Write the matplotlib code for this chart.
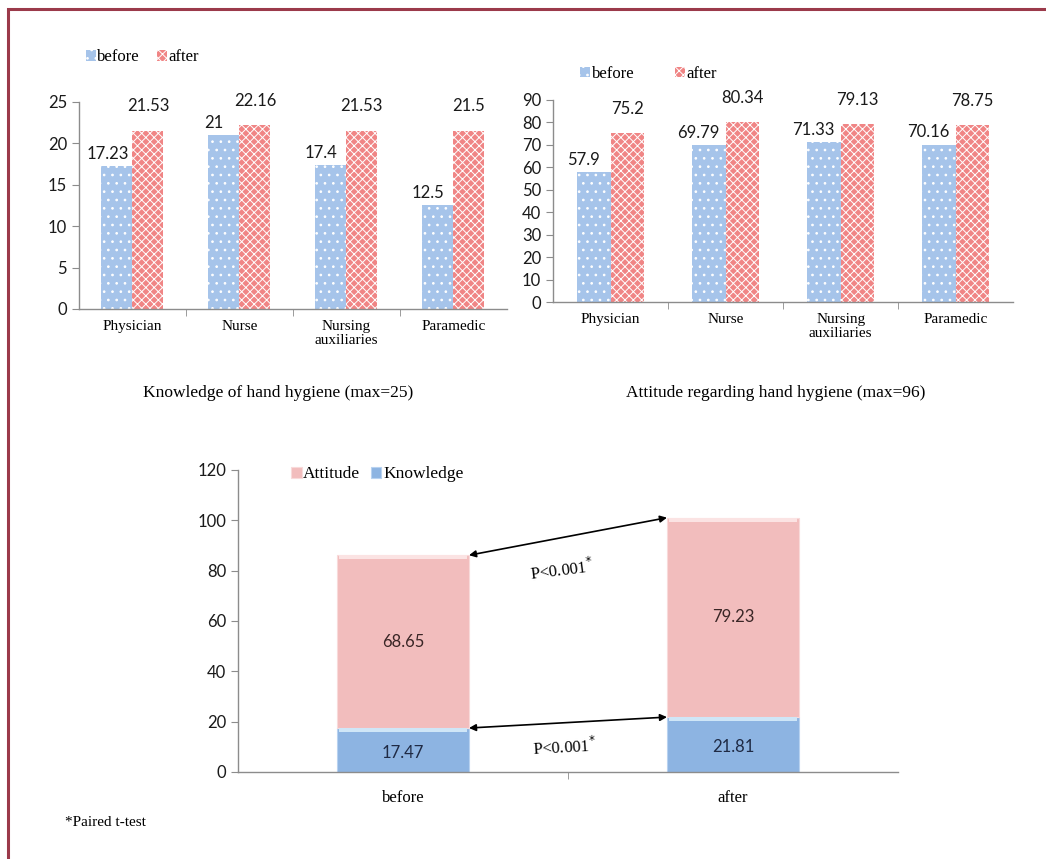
import numpy as np
import matplotlib.pyplot as plt
from matplotlib.patches import Rectangle

# hand hygiene scores by profession, before/after the intervention
groups = ["Physician", "Nurse", "Nursing\nauxiliaries", "Paramedic"]
know_before = [17.23, 21, 17.4, 12.5]
know_after = [21.53, 22.16, 21.53, 21.5]
att_before = [57.9, 69.79, 71.33, 70.16]
att_after = [75.2, 80.34, 79.13, 78.75]

# overall mean scores (stacked)
phases = ["before", "after"]
knowledge_total = [17.47, 21.81]
attitude_total = [68.65, 79.23]

serif = "Liberation Serif"
sans = "Lato"
blue = "#a6c4ea"
red = "#f08585"
axcol = "#8c8c8c"

plt.rcParams['hatch.linewidth'] = 0.7

fig = plt.figure(figsize=(10.46, 8.59), dpi=100)


def style_axes(ax):
    for s in ["top", "right"]:
        ax.spines[s].set_visible(False)
    for s in ["left", "bottom"]:
        ax.spines[s].set_color(axcol)
        ax.spines[s].set_linewidth(1.0)
    ax.tick_params(axis="y", colors=axcol, length=5, labelcolor="#1a1a1a",
                   labelsize=12)
    for t in ax.get_yticklabels():
        t.set_fontfamily(sans)


def grouped(ax, before, after, ymax, step, leg_xy, colspace):
    x = np.arange(len(groups))
    w = 0.29
    b1 = ax.bar(x - w / 2, before, w, color=blue, edgecolor="white",
                hatch="..", linewidth=0, label="before")
    b2 = ax.bar(x + w / 2, after, w, color=red, edgecolor="white",
                hatch="xxxx", linewidth=0, label="after")
    for xi, v in zip(x - w / 2, before):
        ax.text(xi - 0.09, v + ymax * 0.02, f"{v:g}", ha="center", va="bottom",
                fontsize=12, family=sans, color="#1a1a1a")
    for xi, v in zip(x + w / 2, after):
        ax.text(xi, v + ymax * 0.08, f"{v:g}", ha="center", va="bottom",
                fontsize=12, family=sans, color="#1a1a1a")
    ax.set_xlim(-0.5, len(groups) - 0.5)
    ax.set_ylim(0, ymax)
    ax.set_yticks(np.arange(0, ymax + 1, step))
    ax.set_xticks(x)
    ax.set_xticklabels(groups, family=serif, fontsize=11, linespacing=1.05)
    ax.set_xticks(np.arange(0.5, len(groups) - 0.5, 1), minor=True)
    ax.tick_params(axis="x", which="major", length=0, pad=8)
    ax.tick_params(axis="x", which="minor", length=5, color=axcol)
    style_axes(ax)
    ax.legend(handles=[b1, b2], loc="center left", bbox_to_anchor=leg_xy,
              frameon=False, ncol=2, handlelength=0.6, handleheight=0.6,
              handletextpad=0.1, columnspacing=colspace, borderaxespad=0,
              prop={"family": serif, "size": 12})


ax1 = fig.add_axes([0.0755, 0.6403, 0.409, 0.241])
grouped(ax1, know_before, know_after, 25, 5, (0.0, 1.215), 1.0)
fig.text(0.266, 0.542, "Knowledge of hand hygiene (max=25)", ha="center",
         va="center", family=serif, fontsize=12.5)

ax2 = fig.add_axes([0.5287, 0.6484, 0.44, 0.2352])
grouped(ax2, att_before, att_after, 90, 10, (0.045, 1.13), 2.4)
fig.text(0.742, 0.542, "Attitude regarding hand hygiene (max=96)",
         ha="center", va="center", family=serif, fontsize=12.5)

# stacked totals
ax3 = fig.add_axes([0.2275, 0.1013, 0.631, 0.3516])
xp = np.arange(len(phases))
bw = 0.4
kb = ax3.bar(xp, knowledge_total, bw, color="#8db4e2", label="Knowledge",
             edgecolor="#b8d2f0", linewidth=0.8)
ab = ax3.bar(xp, attitude_total, bw, bottom=knowledge_total, color="#f2bdbd",
             label="Attitude", edgecolor="#f8dada", linewidth=0.8)
tops = np.array(knowledge_total) + np.array(attitude_total)
# light bevel strip along the top of each segment
ax3.bar(xp, 1.6, bw * 0.97, bottom=np.array(knowledge_total) - 1.6,
        color="#cfe6f7", linewidth=0)
ax3.bar(xp, 1.6, bw * 0.97, bottom=tops - 1.6, color="#fbe3e3", linewidth=0)
for xi, k, a in zip(xp, knowledge_total, attitude_total):
    ax3.text(xi, k / 2 - 1, f"{k:g}", ha="center", va="center", fontsize=12,
             family=sans, color="#1f2a44")
    ax3.text(xi, k + a / 2, f"{a:g}", ha="center", va="center", fontsize=12,
             family=sans, color="#3a2626")

# paired t-test arrows between bar tops
for y0, y1 in [(knowledge_total[0], knowledge_total[1]), (tops[0], tops[1])]:
    ax3.annotate("", xy=(xp[0] + bw / 2, y0), xytext=(xp[1] - bw / 2, y1),
                 arrowprops=dict(arrowstyle="<|-|>", color="black", lw=1.2,
                                 mutation_scale=10, shrinkA=0, shrinkB=0))
ax3.text(0.48, tops[0] - 6.0, r"P<0.001$^{*}$", ha="center", va="center",
         rotation=7, family=serif, fontsize=12)
ax3.text(0.49, knowledge_total[0] - 7.5, r"P<0.001$^{*}$", ha="center",
         va="center", rotation=3, family=serif, fontsize=12)

ax3.set_xlim(-0.5, 1.5)
ax3.set_ylim(0, 120)
ax3.set_yticks(np.arange(0, 121, 20))
ax3.set_xticks(xp)
ax3.set_xticklabels(phases, family=serif, fontsize=12)
ax3.set_xticks([0.5], minor=True)
ax3.tick_params(axis="x", which="major", length=0, pad=13)
ax3.tick_params(axis="x", which="minor", length=5, color=axcol)
style_axes(ax3)
ax3.legend(handles=[ab, kb], loc="center left", bbox_to_anchor=(0.07, 0.985),
           frameon=False, ncol=2, handlelength=0.6, handleheight=0.6,
           handletextpad=0.1, columnspacing=0.6, borderaxespad=0,
           prop={"family": serif, "size": 12.5})

fig.text(0.062, 0.042, "*Paired t-test", ha="left", va="center",
         family=serif, fontsize=11)

# outer frame
fig.add_artist(Rectangle((0.008, -0.05), 1.2, 1.04, transform=fig.transFigure,
                         fill=False, edgecolor="#9b3a4a", linewidth=2.2))

fig.savefig("out.png", dpi=100)
